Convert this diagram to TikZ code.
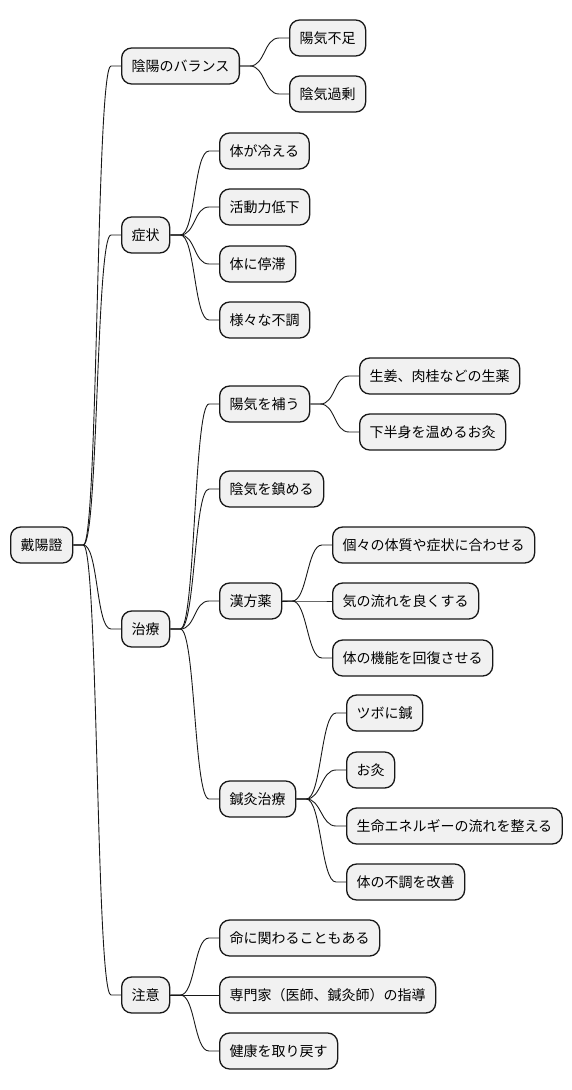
\documentclass[tikz,border=0pt]{standalone}
\usepackage{fontspec}
\setmainfont{Noto Sans CJK JP}
\definecolor{boxfill}{HTML}{F1F1F1}
\definecolor{boxline}{HTML}{181818}
\tikzset{
  mmnode/.style={draw=boxline, fill=boxfill, line width=1.3pt, rounded corners=10pt,
    anchor=west, inner xsep=10pt, inner ysep=0pt, minimum height=36pt,
    text height=11.5pt, text depth=1.5pt, font=\fontsize{14pt}{16pt}\selectfont},
  mm/.style={to path={-- ++(10pt,0) .. controls +(15pt,0) and ([xshift=-25pt]\tikztotarget.west) .. ([xshift=-10pt]\tikztotarget.west) -- (\tikztotarget.west)}},
  link/.style={draw=boxline, line width=0.9pt}
}
\begin{document}
\begin{tikzpicture}[x=1pt,y=-1pt]
\useasboundingbox (0,0) rectangle (572,1090);
% root
\node[mmnode] (root) at (10,545) {戴陽證};
% level 1
\node[mmnode] (bal) at (121,66) {陰陽のバランス};
\node[mmnode] (sym) at (121,235) {症状};
\node[mmnode] (tre) at (121,629) {治療};
\node[mmnode] (cau) at (121,995) {注意};
% balance children
\node[mmnode] (b1) at (289,38) {陽気不足};
\node[mmnode] (b2) at (289,94) {陰気過剰};
% symptoms children
\node[mmnode] (s1) at (219,151) {体が冷える};
\node[mmnode] (s2) at (219,207) {活動力低下};
\node[mmnode] (s3) at (219,264) {体に停滞};
\node[mmnode] (s4) at (219,320) {様々な不調};
% treatment children
\node[mmnode] (t1) at (219,404) {陽気を補う};
\node[mmnode] (t2) at (219,489) {陰気を鎮める};
\node[mmnode] (t3) at (219,601) {漢方薬};
\node[mmnode] (t4) at (219,799) {鍼灸治療};
% caution children
\node[mmnode] (c1) at (219,938) {命に関わることもある};
\node[mmnode] (c2) at (219,995) {専門家（医師、鍼灸師）の指導};
\node[mmnode] (c3) at (219,1051) {健康を取り戻す};
% t1 children
\node[mmnode] (t11) at (359,376) {生姜、肉桂などの生薬};
\node[mmnode] (t12) at (359,432) {下半身を温めるお灸};
% t3 children
\node[mmnode] (t31) at (332,545) {個々の体質や症状に合わせる};
\node[mmnode] (t32) at (332,601) {気の流れを良くする};
\node[mmnode] (t33) at (332,658) {体の機能を回復させる};
% t4 children
\node[mmnode] (t41) at (346,713) {ツボに鍼};
\node[mmnode] (t42) at (346,770) {お灸};
\node[mmnode] (t43) at (346,826) {生命エネルギーの流れを整える};
\node[mmnode] (t44) at (346,882) {体の不調を改善};
% connectors
\foreach \p/\c in {root/bal,root/sym,root/tre,root/cau,
  bal/b1,bal/b2,
  sym/s1,sym/s2,sym/s3,sym/s4,
  tre/t1,tre/t2,tre/t3,tre/t4,
  cau/c1,cau/c2,cau/c3,
  t1/t11,t1/t12,
  t3/t31,t3/t32,t3/t33,
  t4/t41,t4/t42,t4/t43,t4/t44}
  \draw[link] (\p.east) to[mm] (\c);
\end{tikzpicture}
\end{document}
